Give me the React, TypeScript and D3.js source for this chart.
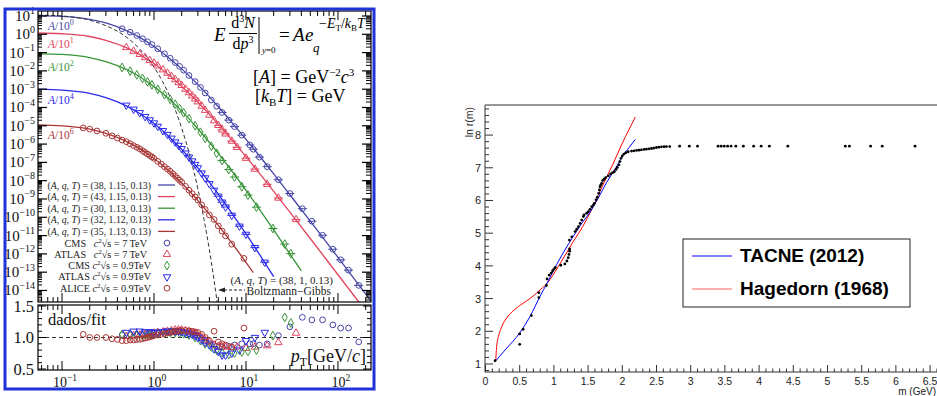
import React from 'react';
import * as d3 from 'd3';

// ================= LEFT PANEL DATA (log-log spectra) =================
// fit curves: pT (GeV/c) and log10(E d3N/dp3)
const fitCms7Pt = [0.055, 0.1, 0.2, 0.3, 0.5, 0.7, 1, 1.5, 2, 3, 5, 7, 10, 20, 30, 50, 100, 230];
const fitCms7Log = [1.02, 0.98, 0.82, 0.62, 0.2, -0.17, -0.67, -1.35, -1.89, -2.75, -3.96, -4.81, -5.74, -7.63, -8.77, -10.21, -12.19, -14.6];
const fitAtlas7Pt = [0.055, 0.1, 0.2, 0.3, 0.5, 0.7, 1, 1.5, 2, 3, 5, 7, 10, 20, 30, 50, 100, 170];
const fitAtlas7Log = [0.07, 0.03, -0.12, -0.33, -0.73, -1.11, -1.6, -2.28, -2.84, -3.7, -4.91, -5.76, -6.69, -8.58, -9.72, -11.16, -13.14, -14.65];
const fitCms09Pt = [0.055, 0.1, 0.2, 0.3, 0.5, 0.7, 1, 1.5, 2, 3, 5, 7, 10, 20, 30, 40];
const fitCms09Log = [-1.07, -1.1, -1.27, -1.49, -1.92, -2.32, -2.86, -3.59, -4.2, -5.16, -6.51, -7.47, -8.53, -10.69, -12.0, -12.93];
const fitAtlas09Pt = [0.055, 0.1, 0.2, 0.3, 0.5, 0.7, 1, 1.5, 2, 3, 5, 7, 10, 20];
const fitAtlas09Log = [-3.0, -3.05, -3.23, -3.46, -3.91, -4.33, -4.88, -5.65, -6.29, -7.3, -8.74, -9.77, -10.91, -13.24];
const fitAlicePt = [0.055, 0.1, 0.2, 0.3, 0.5, 0.7, 1, 1.5, 2, 3, 5, 7, 10, 12];
const fitAliceLog = [-4.95, -5.0, -5.18, -5.41, -5.85, -6.25, -6.79, -7.52, -8.13, -9.09, -10.44, -11.4, -12.46, -13.02];
const bgPt = [0.055, 0.1, 0.2, 0.3, 0.5, 0.7, 1, 1.5, 2, 2.5, 3, 3.5, 4, 4.5, 5];
const bgLog = [1.05, 1.0, 0.77, 0.47, -0.15, -0.81, -1.79, -3.45, -5.12, -6.79, -8.45, -10.12, -11.78, -13.45, -15.1];

// measured points: pT and data/fit ratio
const cms7Pt = [0.45, 0.55, 0.65, 0.75, 0.85, 0.95, 1.1, 1.3, 1.5, 1.7, 1.9, 2.1, 2.4, 2.8, 3.2, 3.6, 4.2, 4.8, 5.5, 6.5, 7.5, 9, 11, 12, 14, 17, 22.5, 30, 41, 52, 68, 88, 107, 130, 168];
const cms7Ratio = [1.04, 1.05, 1.05, 1.06, 1.07, 1.08, 1.09, 1.1, 1.1, 1.1, 1.09, 1.08, 1.06, 1.04, 1.0, 0.95, 0.9, 0.86, 0.85, 0.86, 0.88, 0.9, 0.9, 0.9, 0.88, 0.9, 1.03, 1.17, 1.32, 1.28, 1.28, 1.2, 1.15, 1.15, 0.93];
const atlas7Pt = [0.5, 0.6, 0.7, 0.8, 0.9, 1.0, 1.1, 1.25, 1.4, 1.55, 1.7, 1.85, 2.0, 2.2, 2.4, 2.6, 2.8, 3.0, 3.3, 3.6, 4.0, 4.5, 5.0, 5.5, 6.0, 7.0, 8.0, 10, 12.5, 17, 22.5, 35];
const atlas7Ratio = [1.02, 1.03, 1.04, 1.05, 1.06, 1.07, 1.08, 1.09, 1.1, 1.11, 1.12, 1.12, 1.12, 1.11, 1.1, 1.08, 1.06, 1.03, 1.0, 0.96, 0.92, 0.88, 0.86, 0.85, 0.85, 0.84, 0.85, 0.83, 0.85, 0.87, 0.92, 1.07];
const cms09Pt = [0.45, 0.55, 0.65, 0.75, 0.85, 0.95, 1.1, 1.3, 1.5, 1.7, 1.9, 2.1, 2.4, 2.8, 3.2, 3.6, 4.2, 4.8, 5.5, 6.5, 7.5, 9, 10.5, 13, 19.6, 26.4, 30.7];
const cms09Ratio = [1.05, 1.04, 1.03, 1.03, 1.04, 1.05, 1.06, 1.07, 1.08, 1.08, 1.07, 1.06, 1.04, 1.0, 0.95, 0.9, 0.85, 0.8, 0.76, 0.73, 0.75, 0.77, 0.78, 0.8, 1.03, 1.32, 1.23];
const atlas09Pt = [0.5, 0.6, 0.7, 0.8, 0.9, 1.0, 1.1, 1.25, 1.4, 1.55, 1.7, 1.85, 2.0, 2.2, 2.4, 2.6, 2.8, 3.0, 3.3, 3.6, 4.0, 4.5, 5.0, 5.5, 6.0, 7.0, 8.5, 10, 12.5, 16];
const atlas09Ratio = [1.08, 1.1, 1.1, 1.09, 1.09, 1.08, 1.08, 1.09, 1.1, 1.1, 1.1, 1.1, 1.09, 1.08, 1.07, 1.05, 1.03, 1.0, 0.96, 0.92, 0.88, 0.82, 0.78, 0.72, 0.72, 0.75, 0.8, 0.95, 1.0, 1.08];
const alicePt = [0.17, 0.2, 0.24, 0.3, 0.35, 0.4, 0.45, 0.5, 0.55, 0.6, 0.65, 0.7, 0.75, 0.8, 0.85, 0.9, 0.95, 1.0, 1.1, 1.2, 1.3, 1.4, 1.5, 1.6, 1.7, 1.8, 1.9, 2.0, 2.2, 2.4, 2.6, 2.8, 3.0, 3.3, 3.6, 4.0, 4.5, 5.0, 5.5, 6.0, 7.0, 9.5];
const aliceRatio = [1.05, 1.0, 1.0, 1.0, 0.98, 0.97, 0.95, 0.95, 0.96, 0.96, 0.97, 0.97, 0.98, 0.99, 1.0, 1.01, 1.02, 1.03, 1.04, 1.05, 1.06, 1.07, 1.08, 1.09, 1.1, 1.1, 1.11, 1.11, 1.11, 1.1, 1.1, 1.09, 1.08, 1.05, 1.0, 0.95, 1.1, 0.93, 0.9, 0.88, 0.85, 1.15];

const fitLabels = ['(38, 1.15, 0.13)', '(43, 1.15, 0.13)', '(30, 1.13, 0.13)', '(32, 1.12, 0.13)', '(35, 1.13, 0.13)'];
const dataLabels = [
  ['CMS', '7 TeV'], ['ATLAS', '7 TeV'], ['CMS', '0.9TeV'], ['ATLAS', '0.9TeV'], ['ALICE', '0.9TeV'],
];
const scaleExps = ['0', '1', '2', '4', '6'];
const leftXExps = [-1, 0, 1, 2];
const leftYExps = [1, 0, -1, -2, -3, -4, -5, -6, -7, -8, -9, -10, -11, -12, -13, -14];
const ratioTicks = ['0.5', '1.0', '1.5'];

// ================= RIGHT PANEL DATA =================
const massM = [0.14, 0.5, 0.5, 0.55, 0.67, 0.78, 0.78, 0.89, 0.9, 0.93, 0.96, 0.98, 1.0, 1.02, 1.1, 1.16, 1.19, 1.21, 1.22, 1.23, 1.23, 1.227,
  1.262, 1.31, 1.334, 1.359, 1.383, 1.407, 1.431, 1.441, 1.48, 1.504, 1.528, 1.553, 1.577, 1.592, 1.616, 1.635, 1.655, 1.665, 1.674, 1.684,
  1.698, 1.713, 1.733, 1.757, 1.796, 1.83, 1.859, 1.884, 1.908, 1.927, 1.951, 1.965, 1.98, 1.999, 2.023, 2.052, 2.086, 2.135, 2.17, 2.208,
  2.245, 2.28, 2.32, 2.353, 2.39, 2.426, 2.46, 2.499, 2.535, 2.572, 2.61, 2.644, 2.693,
  2.838, 2.98, 3.1, 3.4, 3.445, 3.49, 3.54, 3.59, 3.66, 3.77, 3.92, 4.03, 4.15, 4.42, 5.26, 5.32, 5.63, 5.8, 6.28];
const massLnR = [1.1, 1.92, 1.6, 2.06, 2.48, 3.18, 3.03, 3.4, 3.6, 3.72, 3.78, 3.85, 3.9, 3.95, 4.02, 4.06, 4.15, 4.25, 4.35, 4.45, 4.52, 4.79,
  4.89, 5.05, 5.12, 5.2, 5.3, 5.4, 5.51, 5.56, 5.61, 5.66, 5.73, 5.81, 5.86, 5.91, 6.02, 6.1, 6.22, 6.32, 6.42, 6.47,
  6.52, 6.61, 6.65, 6.7, 6.75, 6.81, 6.85, 6.88, 6.95, 7.01, 7.09, 7.19, 7.29, 7.36, 7.42, 7.46, 7.49, 7.51, 7.52, 7.53,
  7.54, 7.55, 7.56, 7.57, 7.58, 7.59, 7.6, 7.62, 7.63, 7.64, 7.645, 7.65, 7.65,
  7.66, 7.66, 7.66, 7.66, 7.66, 7.66, 7.66, 7.66, 7.66, 7.66, 7.66, 7.66, 7.66, 7.66, 7.66, 7.66, 7.66, 7.66, 7.66];
const tacneM = [0.15, 0.3, 0.5, 0.65, 0.8, 0.9, 1.02, 1.15, 1.28, 1.4, 1.53, 1.65, 1.77, 1.9, 2.0, 2.1, 2.19];
const tacneLnR = [1.1, 1.46, 1.95, 2.45, 3.08, 3.47, 3.96, 4.45, 4.89, 5.28, 5.65, 6.08, 6.55, 6.98, 7.35, 7.62, 7.87];
const hageM = [0.15, 0.155, 0.162, 0.17, 0.19, 0.22, 0.26, 0.3, 0.39, 0.51, 0.65, 0.8, 0.92, 1.02, 1.14, 1.27, 1.42, 1.57, 1.71, 1.86, 2.0, 2.19];
const hageLnR = [1.1, 1.3, 1.5, 1.65, 1.85, 2.05, 2.25, 2.38, 2.6, 2.8, 3.0, 3.27, 3.52, 3.83, 4.24, 4.7, 5.2, 5.8, 6.45, 7.1, 7.75, 8.55];
const rightXTicks = [0, 0.5, 1, 1.5, 2, 2.5, 3, 3.5, 4, 4.5, 5, 5.5, 6, 6.5];
const rightYTicks = [1, 2, 3, 4, 5, 6, 7, 8];
const legendNames = ['TACNE (2012)', 'Hagedorn (1968)'];

const SERIF = "'Liberation Serif', 'DejaVu Serif', serif";
const SANS = "'Liberation Sans', Arial, Helvetica, sans-serif";

type Sym = 'circle' | 'tri' | 'diamond' | 'tridown';

function symPath(s: Sym) {
  if (s === 'circle') return d3.symbol().type(d3.symbolCircle).size(26)() as string;
  if (s === 'diamond') return d3.symbol().type(d3.symbolDiamond).size(22)() as string;
  return d3.symbol().type(d3.symbolTriangle).size(24)() as string;
}

export default function App() {
  // ---------- left scales ----------
  const xL = d3.scaleLog().domain([Math.pow(10, -1.261), Math.pow(10, 2.359)]).range([38, 371]);
  const yT = d3.scaleLinear().domain([-14.63, 1.273]).range([302, 11]);
  const yR = d3.scaleLinear().domain([0.5, 1.5]).range([369, 306]);

  const series = [
    { color: '#4646a8', fitPt: fitCms7Pt, fitLog: fitCms7Log, pt: cms7Pt, ratio: cms7Ratio, sym: 'circle' as Sym, bars: true },
    { color: '#e2455f', fitPt: fitAtlas7Pt, fitLog: fitAtlas7Log, pt: atlas7Pt, ratio: atlas7Ratio, sym: 'tri' as Sym, bars: true },
    { color: '#379437', fitPt: fitCms09Pt, fitLog: fitCms09Log, pt: cms09Pt, ratio: cms09Ratio, sym: 'diamond' as Sym, bars: true },
    { color: '#2a2aec', fitPt: fitAtlas09Pt, fitLog: fitAtlas09Log, pt: atlas09Pt, ratio: atlas09Ratio, sym: 'tridown' as Sym, bars: true },
    { color: '#a83434', fitPt: fitAlicePt, fitLog: fitAliceLog, pt: alicePt, ratio: aliceRatio, sym: 'circle' as Sym, bars: false },
  ];

  const lineL = d3.line<[number, number]>().x(d => xL(d[0])).y(d => yT(d[1])).curve(d3.curveMonotoneX);

  const xMinor: number[] = [];
  for (let k = -2; k <= 2; k++) for (let m = 2; m <= 9; m++) {
    const v = m * Math.pow(10, k);
    if (v > xL.domain()[0] && v < xL.domain()[1]) xMinor.push(v);
  }
  const xMajor = leftXExps.map(e => Math.pow(10, e));
  const yMinor: number[] = [];
  for (let k = -15; k <= 1; k++) for (let m = 2; m <= 9; m++) {
    const v = k + Math.log10(m);
    if (v > -14.63 && v < 1.273) yMinor.push(v);
  }
  const rMinor: number[] = [];
  for (let i = 5; i <= 15; i++) rMinor.push(i / 10);

  const marker = (s: Sym, x: number, y: number, color: string, key: string) => (
    <path key={key} d={symPath(s)} transform={`translate(${x},${y})${s === 'tridown' ? ' rotate(180)' : ''}`}
      fill="none" stroke={color} strokeWidth={1} />
  );

  // ---------- right scales ----------
  const rx = d3.scaleLinear().domain([0, 6.6]).range([485.5, 485.5 + 6.6 * 68.4]);
  const ry = d3.scaleLinear().domain([0.755, 8.92]).range([372, 105]);
  const lineR = d3.line<[number, number]>().x(d => rx(d[0])).y(d => ry(d[1])).curve(d3.curveMonotoneX);
  const rxMinor: number[] = [];
  for (let i = 0; i <= 66; i++) rxMinor.push(i / 10);
  const ryMinor: number[] = [];
  for (let i = 4; i <= 44; i++) { const v = i / 5; if (v >= 0.76 && v <= 8.92) ryMinor.push(v); }

  return (
    <svg width={937} height={396} style={{ position: 'absolute', left: 0, top: 0, background: '#fff' }}
      xmlns="http://www.w3.org/2000/svg">
      <defs>
        <clipPath id="clipTop"><rect x={38} y={11} width={333} height={291} /></clipPath>
        <clipPath id="clipLow"><rect x={38} y={305} width={333} height={65} /></clipPath>
      </defs>

      {/* ================= LEFT PANEL ================= */}
      <g fontFamily={SERIF}>
        {/* fit curves */}
        <g clipPath="url(#clipTop)">
          {series.map((s, i) => (
            <path key={'fit' + i} d={lineL(s.fitPt.map((p, j) => [p, s.fitLog[j]] as [number, number])) as string}
              fill="none" stroke={s.color} strokeWidth={1.3} />
          ))}
          <path d={lineL(bgPt.map((p, j) => [p, bgLog[j]] as [number, number])) as string}
            fill="none" stroke="#333" strokeWidth={1} strokeDasharray="4,2.5" />
          {/* measured points */}
          {series.map((s, i) => {
            const fit = d3.scaleLinear().domain(s.fitPt.map(p => Math.log10(p))).range(s.fitLog);
            return (
              <g key={'pts' + i}>
                {s.pt.map((p, j) => {
                  const x = xL(p);
                  const y = yT(fit(Math.log10(p)) + Math.log10(s.ratio[j]));
                  return (
                    <g key={j}>
                      {s.bars && p >= 5 && (
                        <line x1={xL(p / 1.12)} x2={xL(p * 1.12)} y1={y} y2={y} stroke={s.color} strokeWidth={1} />
                      )}
                      {marker(s.sym, x, y, s.color, 'm' + j)}
                    </g>
                  );
                })}
              </g>
            );
          })}
        </g>

        {/* curve labels */}
        {[30, 48, 71, 104, 139].map((y, i) => (
          <text key={'lab' + i} x={48} y={y} fontSize={11.5} fill={series[i].color}>
            <tspan fontStyle="italic">A</tspan>/10<tspan dy={-5} fontSize={8}>{scaleExps[i]}</tspan>
          </text>
        ))}

        {/* formula */}
        <g fill="#000">
          <text x={214} y={41} fontSize={19} fontStyle="italic">E</text>
          <text x={243} y={28} fontSize={16} textAnchor="middle">d<tspan dy={-6} fontSize={10}>3</tspan><tspan dy={6} fontStyle="italic">N</tspan></text>
          <line x1={229} x2={257} y1={33.5} y2={33.5} stroke="#000" strokeWidth={1} />
          <text x={243} y={49} fontSize={16} textAnchor="middle">d<tspan fontStyle="italic">p</tspan><tspan dy={-6} fontSize={10}>3</tspan></text>
          <line x1={259} x2={259} y1={17} y2={54} stroke="#000" strokeWidth={1} />
          <text x={262} y={53} fontSize={9}><tspan fontStyle="italic">y</tspan>=0</text>
          <text x={279} y={41} fontSize={19}>=</text>
          <text x={293} y={41} fontSize={19} fontStyle="italic">A</text>
          <text x={305} y={41} fontSize={19} fontStyle="italic">e</text>
          <text x={313} y={52} fontSize={13} fontStyle="italic">q</text>
          <text x={319} y={28} fontSize={14}>−<tspan fontStyle="italic">E</tspan><tspan dy={3} fontSize={9}>T</tspan><tspan dy={-3}>/</tspan><tspan fontStyle="italic">k</tspan><tspan dy={3} fontSize={9}>B</tspan><tspan dy={-3} fontStyle="italic">T</tspan></text>
          <text x={253} y={83} fontSize={18}>[<tspan fontStyle="italic">A</tspan>] = GeV<tspan dy={-7} fontSize={11}>−2</tspan><tspan dy={7} fontStyle="italic">c</tspan><tspan dy={-7} fontSize={11}>3</tspan></text>
          <text x={255} y={102} fontSize={18}>[<tspan fontStyle="italic">k</tspan><tspan dy={4} fontSize={11}>B</tspan><tspan dy={-4} fontStyle="italic">T</tspan>] = GeV</text>
        </g>

        {/* legend */}
        {fitLabels.map((t, i) => {
          const y = 185 + i * 11.6;
          return (
            <g key={'lf' + i}>
              <text x={151} y={y + 3.5} fontSize={9.8} textAnchor="end" fill="#222">
                (<tspan fontStyle="italic">A</tspan>, <tspan fontStyle="italic">q</tspan>, <tspan fontStyle="italic">T</tspan>) = {t}
              </text>
              <line x1={158} x2={175} y1={y} y2={y} stroke={series[i].color} strokeWidth={1.3} />
            </g>
          );
        })}
        {dataLabels.map((t, i) => {
          const y = 243 + i * 11.3;
          return (
            <g key={'ld' + i}>
              <text x={i < 2 ? 147 : 151} y={y + 3.5} fontSize={10.2} textAnchor="end" fill="#222" xmlSpace="preserve">
                {t[0]}{i < 2 ? '   ' : ' '}<tspan fontStyle="italic">c</tspan><tspan dy={-4} fontSize={7}>2</tspan><tspan dy={4}>√s = {t[1]}</tspan>
              </text>
              {marker(series[i].sym, 167, y, series[i].color, 'lm' + i)}
            </g>
          );
        })}

        {/* Boltzmann-Gibbs annotation */}
        <text x={333} y={284} fontSize={11} textAnchor="end" fill="#222">
          (<tspan fontStyle="italic">A</tspan>, <tspan fontStyle="italic">q</tspan>, <tspan fontStyle="italic">T</tspan>) = (38, 1, 0.13)
        </text>
        <text x={331} y={295} fontSize={11.5} textAnchor="end" fill="#222">Boltzmann−Gibbs</text>
        <line x1={224} x2={245} y1={290} y2={290} stroke="#222" strokeWidth={1} strokeDasharray="3,2" />
        <path d="M218,290 L225,287.5 L225,292.5 Z" fill="#222" />

        {/* top panel frame & ticks */}
        <rect x={38} y={11} width={333} height={291} fill="none" stroke="#000" strokeWidth={1.2} />
        {xMajor.map((v, i) => (
          <g key={'xM' + i} stroke="#000" strokeWidth={1}>
            <line x1={xL(v)} x2={xL(v)} y1={11} y2={20} />
            <line x1={xL(v)} x2={xL(v)} y1={302} y2={293} />
            <line x1={xL(v)} x2={xL(v)} y1={305} y2={314} />
            <line x1={xL(v)} x2={xL(v)} y1={370} y2={361} />
          </g>
        ))}
        {xMinor.map((v, i) => (
          <g key={'xm' + i} stroke="#000" strokeWidth={1}>
            <line x1={xL(v)} x2={xL(v)} y1={11} y2={16} />
            <line x1={xL(v)} x2={xL(v)} y1={302} y2={297} />
            <line x1={xL(v)} x2={xL(v)} y1={305} y2={310} />
            <line x1={xL(v)} x2={xL(v)} y1={370} y2={365} />
          </g>
        ))}
        {leftYExps.map((e, i) => (
          <g key={'yM' + i}>
            <line x1={38} x2={47} y1={yT(e)} y2={yT(e)} stroke="#000" strokeWidth={1.2} />
            <line x1={371} x2={362} y1={yT(e)} y2={yT(e)} stroke="#000" strokeWidth={1.2} />
            <text x={35} y={yT(e) + 5} fontSize={15} textAnchor="end" fill="#111">
              10<tspan dy={-6.5} fontSize={10}>{e < 0 ? '−' + Math.abs(e) : String(e)}</tspan>
            </text>
          </g>
        ))}
        {yMinor.map((v, i) => (
          <g key={'ym' + i} stroke="#000" strokeWidth={1}>
            <line x1={38} x2={42} y1={yT(v)} y2={yT(v)} />
            <line x1={371} x2={366} y1={yT(v)} y2={yT(v)} />
          </g>
        ))}

        {/* lower ratio panel */}
        <line x1={38} x2={371} y1={yR(1)} y2={yR(1)} stroke="#333" strokeWidth={1} strokeDasharray="4,3" />
        <g clipPath="url(#clipLow)">
          {series.map((s, i) => (
            <g key={'r' + i}>
              {s.pt.map((p, j) => marker(s.sym, xL(p), yR(s.ratio[j]), s.color, 'r' + i + '_' + j))}
            </g>
          ))}
        </g>
        <rect x={38} y={305} width={333} height={65} fill="none" stroke="#000" strokeWidth={1.2} />
        {rMinor.map((v, i) => {
          const major = Math.abs(v * 2 - Math.round(v * 2)) < 1e-6;
          const len = major ? 8 : 4;
          return (
            <g key={'rt' + i} stroke="#000" strokeWidth={1}>
              <line x1={38} x2={38 + len} y1={yR(v)} y2={yR(v)} />
              <line x1={371} x2={371 - len} y1={yR(v)} y2={yR(v)} />
            </g>
          );
        })}
        {ratioTicks.map((t, i) => (
          <text key={'rl' + i} x={34} y={yR(+t) + 5.5} fontSize={16.5} textAnchor="end" fill="#111">{t}</text>
        ))}
        <text x={48} y={325} fontSize={16.5} fill="#111">dados/fit</text>
        <text x={366} y={362} fontSize={18} textAnchor="end" fill="#111">
          <tspan fontStyle="italic">p</tspan><tspan dy={4} fontSize={12}>T</tspan><tspan dy={-4}>[GeV/</tspan><tspan fontStyle="italic">c</tspan>]
        </text>
        {leftXExps.map((e, i) => (
          <text key={'xl' + i} x={xL(Math.pow(10, e)) + 3} y={387} fontSize={14} textAnchor="middle" fill="#111">
            10<tspan dy={-6} fontSize={9.5}>{e < 0 ? '−' + Math.abs(e) : String(e)}</tspan>
          </text>
        ))}

        {/* blue border */}
        <rect x={5} y={9} width={369} height={380} fill="none" stroke="#1f33d8" strokeWidth={3} />
      </g>

      {/* ================= RIGHT PANEL ================= */}
      <g fontFamily={SANS}>
        <line x1={485} x2={937} y1={105} y2={105} stroke="#333" strokeWidth={1} />
        <line x1={485} x2={485} y1={105} y2={372} stroke="#333" strokeWidth={1} />
        <line x1={485} x2={937} y1={372} y2={372} stroke="#333" strokeWidth={1} />
        {rxMinor.map((v, i) => {
          const major = i % 5 === 0;
          return <line key={'rxt' + i} x1={rx(v)} x2={rx(v)} y1={372} y2={372 - (major ? 7 : 3.5)} stroke="#333" strokeWidth={1} />;
        })}
        {ryMinor.map((v, i) => {
          const major = Math.abs(v - Math.round(v)) < 1e-6;
          return <line key={'ryt' + i} x1={485} x2={485 + (major ? 8 : 4)} y1={ry(v)} y2={ry(v)} stroke="#333" strokeWidth={1} />;
        })}
        {rightXTicks.map((v, i) => (
          <text key={'rxl' + i} x={rx(v)} y={385} fontSize={10.5} textAnchor="middle" fill="#222">{String(v)}</text>
        ))}
        {rightYTicks.map((v, i) => (
          <text key={'ryl' + i} x={481} y={ry(v) + 4} fontSize={11} textAnchor="end" fill="#222">{String(v)}</text>
        ))}
        <text x={936} y={395} fontSize={10} textAnchor="end" fill="#222">m (GeV)</text>
        <text transform="translate(473,107) rotate(-90)" fontSize={10.5} textAnchor="end" fill="#222">ln r(m)</text>

        <path d={lineR(hageM.map((m, i) => [m, hageLnR[i]] as [number, number])) as string} fill="none" stroke="#ff0000" strokeWidth={1} />
        <path d={lineR(tacneM.map((m, i) => [m, tacneLnR[i]] as [number, number])) as string} fill="none" stroke="#0000ff" strokeWidth={1} />
        {massM.map((m, i) => (
          <circle key={'d' + i} cx={rx(m)} cy={ry(massLnR[i])} r={1.4} fill="#000" />
        ))}

        {/* legend */}
        <rect x={683} y={239} width={227} height={68} fill="#fff" stroke="#222" strokeWidth={1} />
        <line x1={692} x2={732} y1={256} y2={256} stroke="#0000ff" strokeWidth={1} />
        <line x1={692} x2={732} y1={289} y2={289} stroke="#ff6060" strokeWidth={1} />
        <text x={740} y={262} fontSize={19} fontWeight="bold" fill="#000">{legendNames[0]}</text>
        <text x={740} y={295} fontSize={19} fontWeight="bold" fill="#000">{legendNames[1]}</text>
      </g>
    </svg>
  );
}
